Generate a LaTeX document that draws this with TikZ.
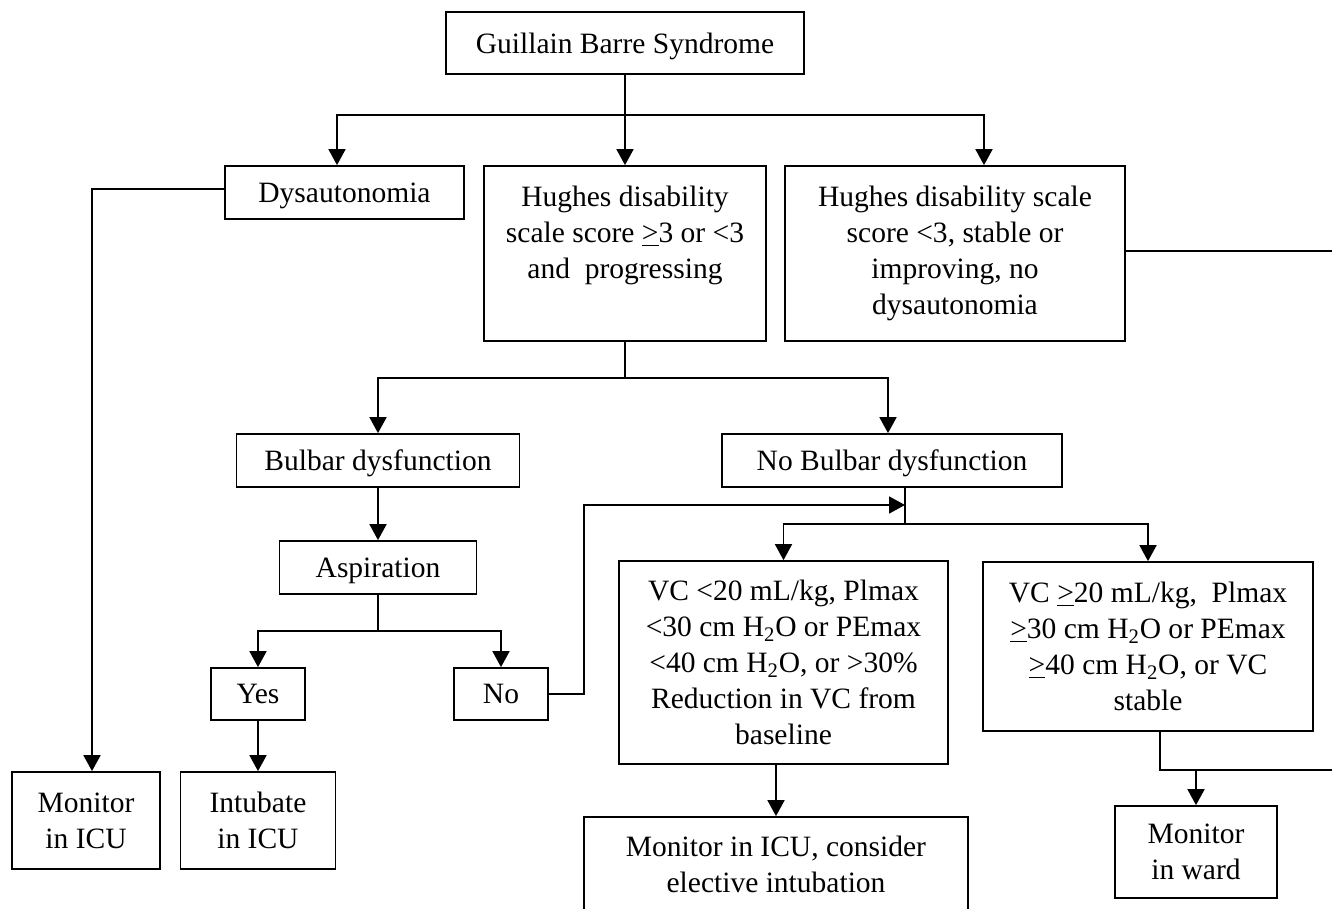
\documentclass[tikz,border=0pt]{standalone}
\usepackage{fontspec}
\setmainfont{Liberation Serif}
\usetikzlibrary{arrows.meta}

\begin{document}
\begin{tikzpicture}[x=0.02cm, y=-0.02cm, >={Triangle[length=0.32cm,width=0.34cm]},
  font=\fontsize{16.8}{20.5}\selectfont, line width=1pt,
  box/.style={draw, align=center, inner sep=0pt},
  onebox/.style={box, text depth=0pt}]

\useasboundingbox (0,0) rectangle (1332,909);
\clip (0,0) rectangle (1332,909);

%\draw[step=100, gray!40] (0,0) grid (1332,909);

\node[onebox, minimum width=7.16cm, minimum height=1.24cm] (gbs) at (625,43) {Guillain Barre Syndrome};

\node[onebox, minimum width=4.78cm, minimum height=1.06cm] (dys) at (344.5,192.5) {Dysautonomia};
\node[box, minimum width=5.64cm, minimum height=3.5cm] (hug) at (625,253.5)
 {Hughes disability\\scale score \underline{>}3 or <3\\and \ progressing\\\mbox{\vphantom{y}}};
\node[box, minimum width=6.8cm, minimum height=3.5cm] (hugs) at (955,253.5)
 {Hughes disability scale\\score <3, stable or\\improving, no\\dysautonomia};

\node[onebox, minimum width=5.66cm, minimum height=1.06cm] (bulb) at (378,460.5) {Bulbar dysfunction};
\node[onebox, minimum width=6.8cm, minimum height=1.06cm] (nobulb) at (892,460.5) {No Bulbar dysfunction};

\node[onebox, minimum width=3.94cm, minimum height=1.06cm] (asp) at (378,567.5) {Aspiration};
\node[onebox, minimum width=1.88cm, minimum height=1.04cm] (yes) at (258,694) {Yes};
\node[onebox, minimum width=1.88cm, minimum height=1.04cm] (no) at (501,694) {No};

\node[box, minimum width=6.58cm, minimum height=4.06cm] (vclow) at (783.5,662.5)
 {VC <20 mL/kg, Plmax\\<30 cm H\textsubscript{2}O or PEmax\\<40 cm H\textsubscript{2}O, or >30\%\\Reduction in VC from\\baseline};
\node[box, minimum width=6.6cm, minimum height=3.38cm] (vchigh) at (1148,646.5)
 {VC \underline{>}20 mL/kg, \ Plmax\\\underline{>}30 cm H\textsubscript{2}O or PEmax\\\underline{>}40 cm H\textsubscript{2}O, or VC\\stable};

\node[box, minimum width=2.96cm, minimum height=1.94cm] (micu) at (86,820.5) {Monitor\\in ICU};
\node[box, minimum width=3.1cm, minimum height=1.94cm] (intub) at (258,820.5) {Intubate\\in ICU};
\node[box, minimum width=7.68cm, minimum height=1.88cm] (mcons) at (776,864) {Monitor in ICU, consider\\elective intubation};
\node[box, minimum width=3.24cm, minimum height=1.84cm] (ward) at (1196,852) {Monitor\\in ward};

% junctions
\coordinate (t1) at (625,115);
\coordinate (t2) at (625,378);
\coordinate (t3) at (378,631);
\coordinate (t4) at (905,524);
\coordinate (k) at (584,505);
\coordinate (r1) at (1332,251);
\coordinate (r2) at (1332,770);

\draw (gbs.south) -- (t1);
\draw[->] (t1) -| ([xshift=-0.15cm]dys.north);
\draw[->] (t1) -- (hug.north);
\draw[->] (t1) -| ([xshift=0.58cm]hugs.north);

\draw[->] ([yshift=0.07cm]dys.west) -| ([xshift=0.12cm]micu.north);
\draw ([yshift=0.05cm]hugs.east) -- (r1);

\draw (hug.south) -- (t2);
\draw[->] (t2) -| (bulb.north);
\draw[->] (t2) -| ([xshift=-0.08cm]nobulb.north);

\draw[->] (bulb.south) -- (asp.north);
\draw (asp.south) -- (t3);
\foreach \n in {yes,no}
\draw[->] (t3) -| (\n.north);
\draw[->] (yes.south) -- (intub.north);

\draw[->] (no.east) -| (k) -- (k -| t4);
\draw ([xshift=0.26cm]nobulb.south) -- (t4);
\foreach \n in {vclow,vchigh}
\draw[->] (t4) -| (\n.north);

\draw[->] ([xshift=-0.15cm]vclow.south) -- (mcons.north);
\draw ([xshift=0.24cm]vchigh.south) |- (r2);
\draw[->] (ward.north |- r2) -- (ward.north);

\end{tikzpicture}
\end{document}
